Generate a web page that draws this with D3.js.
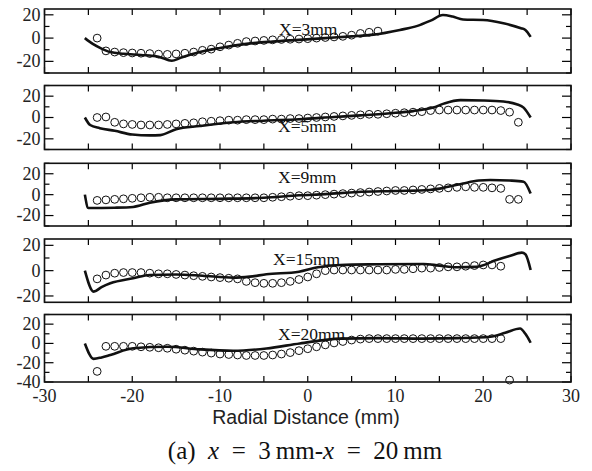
<!DOCTYPE html>
<html><head><meta charset="utf-8">
<script src="https://cdn.jsdelivr.net/npm/d3@7"></script>
<style>body{margin:0;background:#fff}svg{display:block}</style>
</head><body>
<svg id="c" width="592" height="471"></svg>
<script>
// ---------- DATA ----------
const xTickValues = [-30,-25,-20,-15,-10,-5,0,5,10,15,20,25,30];
const xTickLabels = [-30,-20,-10,0,10,20,30];
const panelLabels = ["X=3mm","X=5mm","X=9mm","X=15mm","X=20mm"];
const yDomains = [[-30,25],[-30,30],[-30,30],[-25,25],[-40,30]];
const yTickLabels = [[20,0,-20],[20,0,-20],[20,0,-20],[20,0,-20],[20,0,-20,-40]];

const line1 = [[-25.4,0],[-24.5,-5],[-23.5,-9],[-22.5,-12],[-21,-13.5],[-19,-14.5],[-17,-16],[-15.5,-19.5],[-14.5,-17],[-12.3,-12],[-10,-8.5],[-7,-5],[-4,-3],[-1,-1.5],[2,0],[5,1.5],[7.5,3],[10.5,7],[12.5,10.5],[14,15],[15.4,19.8],[16.5,18.5],[17.7,16],[20,15.6],[22.3,12.8],[24.3,8.5],[24.8,7],[25.4,1]];
const line2 = [[-25.4,0],[-24.8,-7],[-23.7,-10],[-22,-12.5],[-20,-16],[-18,-16.8],[-16.8,-16.5],[-15,-11],[-12.3,-8],[-8.5,-4.5],[-5,-3],[-1,-1.6],[3,0.5],[6,2],[9.4,4],[12,6],[14.3,9.3],[15.5,13],[17.4,16.3],[20,16],[22.3,15],[23.8,12.5],[24.6,9.3],[25.4,0]];
const line3 = [[-25.4,0],[-25,-12.8],[-22,-12.5],[-19.9,-11.8],[-18,-7.7],[-15,-4.5],[-10,-4],[-5,-3],[-1,-0.6],[2,0.5],[5.6,2.5],[10,3.5],[13.9,4.5],[16,7.5],[17.7,10.7],[19.5,13.5],[20.8,14],[23,13.5],[24.6,12.4],[25.4,1]];
const line4 = [[-25.4,0],[-24.4,-16.6],[-23.5,-13],[-22.5,-10],[-19.9,-6],[-18,-3.4],[-15,-3],[-12,-4],[-8.5,-5.5],[-6.6,-4.7],[-4.7,-2.9],[-1,-0.8],[1,2.5],[3.7,4.5],[8,5],[13.2,5.3],[15,4],[17,2.7],[19.2,3],[21.5,8.4],[23,11.5],[24.4,14.2],[24.8,13],[25.4,0.5]];
const line5 = [[-25.4,0],[-24.4,-16],[-23.5,-14.5],[-22.5,-12],[-19.9,-5],[-16,-3.5],[-12.3,-6.2],[-8.5,-7.6],[-4.7,-5.2],[-0.9,0],[3.7,5],[8,5.5],[13.2,5],[17,5.5],[20.8,7],[22.5,11],[24.2,15.5],[24.8,10],[25.4,0.7]];

const pts1 = [[-24,0],[-23,-11],[-22,-12],[-21,-12.5],[-20,-12.8],[-19,-13],[-18,-13.3],[-17,-13.8],[-16,-14],[-15,-13.6],[-14,-13],[-13,-12],[-12,-10.5],[-11,-9.5],[-10,-7.5],[-9,-6],[-8,-4.5],[-7,-3],[-6,-2.5],[-5,-2],[-4,-1.5],[-3,-1.2],[-2,-1],[-1,-0.8],[0,-0.5],[1,0],[2,0.5],[3,1],[4,1.5],[5,2.5],[6,4],[7,5],[8,6]];
const pts2 = [[-24,0],[-23,0.5],[-22,-4.5],[-21,-6],[-20,-6.5],[-19,-7],[-18,-7],[-17,-7],[-16,-6.5],[-15,-6],[-14,-5.5],[-13,-5],[-12,-4],[-11,-3.5],[-10,-3],[-9,-2.5],[-8,-2.5],[-7,-2],[-6,-2],[-5,-2],[-4,-1.5],[-3,-1.5],[-2,-1],[-1,-1],[0,-0.5],[1,0],[2,0.5],[3,1],[4,1.5],[5,2],[6,2.5],[7,3],[8,3],[9,3.5],[10,4],[11,4.5],[12,5],[13,5.5],[14,6.5],[15,7],[16,7],[17,7],[18,7],[19,7],[20,7],[21,7],[22,6.5],[23,5],[24,-4.5]];
const pts3 = [[-24,-5.5],[-23,-5],[-22,-4.5],[-21,-4],[-20,-3.5],[-19,-3],[-18,-2.5],[-17,-2.5],[-16,-3],[-15,-3],[-14,-3],[-13,-3],[-12,-3],[-11,-3],[-10,-3],[-9,-3],[-8,-3],[-7,-3],[-6,-3],[-5,-3],[-4,-2.5],[-3,-2],[-2,-1.5],[-1,-1],[0,-1],[1,-0.5],[2,0],[3,0.5],[4,1],[5,1.5],[6,2],[7,2.5],[8,3],[9,3.5],[10,4],[11,4],[12,4.5],[13,5],[14,5.5],[15,6],[16,6.5],[17,7],[18,7.5],[19,7],[20,7],[21,6.5],[22,6],[23,-4.5],[24,-4.5]];
const pts4 = [[-24,-6.5],[-23,-3.5],[-22,-2],[-21,-1.5],[-20,-1.5],[-19,-1.5],[-18,-2],[-17,-2.5],[-16,-2.5],[-15,-3],[-14,-3.5],[-13,-4],[-12,-4.5],[-11,-5],[-10,-5.5],[-9,-6],[-8,-6.5],[-7,-8.5],[-6,-9.5],[-5,-10],[-4,-10],[-3,-9.5],[-2,-8.5],[-1,-7],[0,-5],[1,-2.5],[2,0],[3,0.5],[4,0.5],[5,0.5],[6,0.5],[7,0.5],[8,0.5],[9,0.5],[10,1],[11,1],[12,1.5],[13,2],[14,2],[15,2.5],[16,3],[17,3],[18,3.5],[19,4],[20,4.5],[21,4.5],[22,3.5]];
const pts5 = [[-24,-29],[-23,-3],[-22,-3],[-21,-3],[-20,-3],[-19,-3.5],[-18,-4],[-17,-4.5],[-16,-5],[-15,-6],[-14,-7],[-13,-8],[-12,-9],[-11,-10],[-10,-11],[-9,-11.5],[-8,-12],[-7,-12.5],[-6,-12.5],[-5,-12.5],[-4,-12],[-3,-11],[-2,-9.5],[-1,-7.5],[0,-5.5],[1,-3.5],[2,-1.5],[3,0.5],[4,2],[5,3.5],[6,4.5],[7,5],[8,5],[9,5],[10,5],[11,5],[12,5],[13,5],[14,5],[15,5],[16,5],[17,5],[18,5],[19,5],[20,5],[21,5],[22,5],[23,-38]];

const lines = [line1,line2,line3,line4,line5];
const points = [pts1,pts2,pts3,pts4,pts5];

// ---------- LAYOUT ----------
const svg = d3.select("#c");
const left = 44.5, right = 571;
const bands = [[9,73],[85.5,149.5],[163.3,226],[239,302.3],[314.5,382]];
const labelPos = [[279,35],[278,131.7],[278,183.3],[273,265],[278,340]];
const serif = "'Liberation Serif','Times New Roman',serif";

const x = d3.scaleLinear().domain([-30,30]).range([left,right]);

bands.forEach((b,i)=>{
  const y = d3.scaleLinear().domain(yDomains[i]).range([b[1],b[0]]);
  const g = svg.append("g");
  const yt = d3.range(Math.ceil(yDomains[i][0]/10)*10, yDomains[i][1]+0.01, 10);
  const major = v => yTickLabels[i].includes(v);

  g.selectAll(".xtb").data(xTickValues).join("line").attr("class","xtb")
    .attr("x1",d=>x(d)).attr("x2",d=>x(d)).attr("y1",b[1]).attr("y2",b[1]-6)
    .attr("stroke","#000").attr("stroke-width",1.2);
  g.selectAll(".xtt").data(xTickValues).join("line").attr("class","xtt")
    .attr("x1",d=>x(d)).attr("x2",d=>x(d)).attr("y1",b[0]).attr("y2",b[0]+6)
    .attr("stroke","#000").attr("stroke-width",1.2);
  yt.forEach(v=>{
    const len = major(v)?9:5;
    g.append("line").attr("x1",left).attr("x2",left+len).attr("y1",y(v)).attr("y2",y(v)).attr("stroke","#000").attr("stroke-width",1.2);
    g.append("line").attr("x1",right).attr("x2",right-len).attr("y1",y(v)).attr("y2",y(v)).attr("stroke","#000").attr("stroke-width",1.2);
  });
  g.selectAll(".yl").data(yTickLabels[i]).join("text").attr("class","yl")
    .attr("x",left-4).attr("y",d=>y(d)).attr("dy","0.33em").attr("text-anchor","end")
    .attr("font-family",serif).attr("font-size",18).attr("fill","#222").text(d=>d);

  g.append("path").datum(lines[i])
    .attr("d", d3.line().x(d=>x(d[0])).y(d=>y(d[1])).curve(d3.curveMonotoneX))
    .attr("fill","none").attr("stroke","#111").attr("stroke-width",2.6).attr("stroke-linejoin","round");
  g.selectAll("circle").data(points[i]).join("circle")
    .attr("cx",d=>x(d[0])).attr("cy",d=>y(d[1])).attr("r",3.9)
    .attr("fill","none").attr("stroke","#111").attr("stroke-width",1);
  g.append("text").attr("x",labelPos[i][0]).attr("y",labelPos[i][1])
    .attr("font-family",serif).attr("font-size",17.5).attr("fill","#111").text(panelLabels[i]);
  g.append("rect").attr("x",left).attr("y",b[0]).attr("width",right-left).attr("height",b[1]-b[0])
    .attr("fill","none").attr("stroke","#111").attr("stroke-width",1.6);

  if(i===bands.length-1){
    g.selectAll(".xl").data(xTickLabels).join("text").attr("class","xl")
      .attr("x",d=>x(d)).attr("y",b[1]+20).attr("text-anchor","middle")
      .attr("font-family",serif).attr("font-size",18).attr("fill","#222").text(d=>d);
  }
});

svg.append("text").attr("x",306).attr("y",424).attr("text-anchor","middle")
  .attr("font-family","'Liberation Sans',Arial,sans-serif").attr("font-size",19.5).attr("fill","#222")
  .text("Radial Distance (mm)");

const cap = svg.append("text").attr("x",305).attr("y",459).attr("text-anchor","middle")
  .attr("font-family",serif).attr("font-size",25).attr("fill","#111");
cap.append("tspan").text("(a)\u2002");
cap.append("tspan").attr("font-style","italic").text("x");
cap.append("tspan").text("\u2002=\u20023\u2009mm-");
cap.append("tspan").attr("font-style","italic").text("x");
cap.append("tspan").text("\u2002=\u200220\u2009mm");
</script>
</body></html>
